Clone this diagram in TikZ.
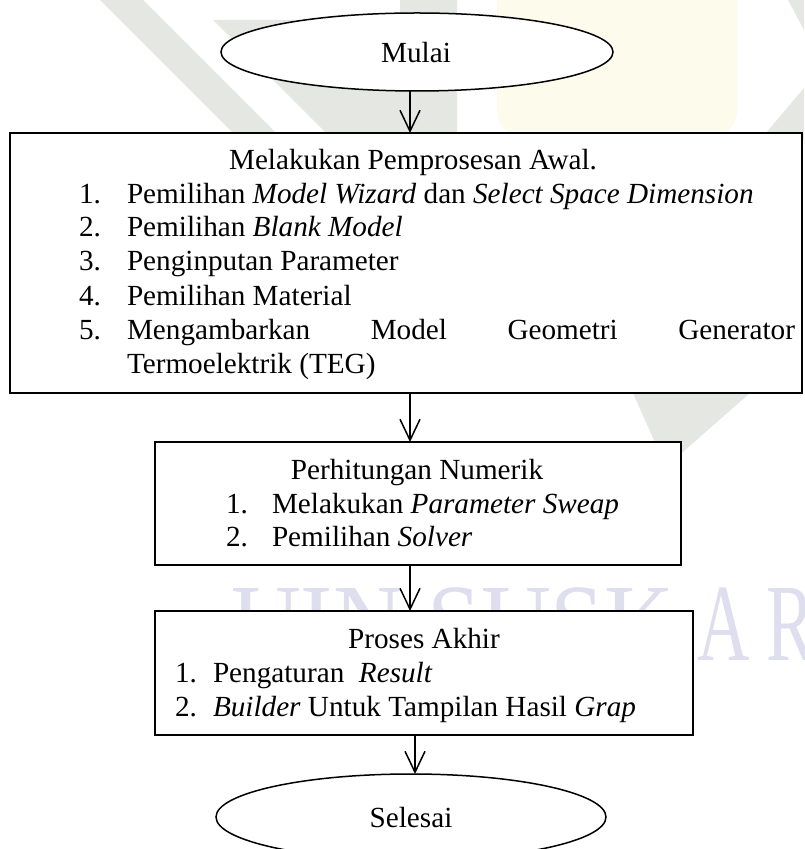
\documentclass[tikz,border=0pt]{standalone}
\usepackage{fontspec}
\setmainfont{Liberation Serif}
\usetikzlibrary{arrows.meta,shapes.geometric}
\definecolor{wmgray}{RGB}{229,231,226}
\definecolor{wmyellow}{RGB}{253,251,236}
\definecolor{wmarc}{RGB}{250,246,222}
\definecolor{wmtext}{RGB}{222,222,238}
\newcommand{\bodyfont}{\fontsize{14.6}{17}\selectfont}
\tikzset{
  every node/.style={inner sep=0pt, outer sep=0pt},
  terminal/.style={ellipse, draw, line width=0.75pt, fill=white},
  stepbox/.style={rectangle, draw, line width=1pt, fill=white},
  txt/.style={font=\bodyfont, anchor=base west},
  boxtitle/.style={font=\bodyfont, anchor=base},
  arr/.style={line width=0.75pt, -{Straight Barb[length=10.5pt,width=10pt]}},
  wmletters/.style={anchor=base west, font=\fontsize{55}{55}\selectfont, text=wmtext},
}
\begin{document}
\begin{tikzpicture}[x=0.5pt,y=-0.5pt]
\useasboundingbox (0,0) rectangle (804,849);
\fill[white] (0,0) rectangle (804,849);

% faint background watermark
\begin{scope}
  \clip (0,0) rectangle (804,849);
  \fill[wmgray] (100,0) -- (143,0) -- (290,147) -- (247,147) -- cycle;
  \fill[wmgray] (213,20) -- (400,20) -- (400,0) -- (457,0) -- (457,140) -- (333,140) -- cycle;
  \fill[wmyellow] (497,0) -- (737,0) -- (737,110) .. controls (737,140) and (700,150) .. (617,150)
                  .. controls (534,150) and (497,140) .. (497,110) -- cycle;
  \foreach \r in {30,55,80,105}
    \draw[wmarc, line width=1.5pt] (617-\r,150) arc[start angle=180, end angle=0, x radius=\r, y radius=\r*1.3];
  \fill[wmgray] (760,140) -- (804,88) -- (804,140) -- cycle;
  \fill[wmgray] (788,0) -- (804,0) -- (804,30) -- cycle;
  \fill[wmgray] (633,393) -- (750,393) -- (676,458) -- (662,458) -- cycle;
  \begin{scope}
    \clip (0,560) rectangle (804,611);
    \node[wmletters] (wm1) at (231,660) {\scalebox{0.88}[1]{UIN SUSK}};
  \end{scope}
  \node[wmletters] (wm2) at (697,660) {\scalebox{0.66}[1]{A\hspace{13pt}R}};
\end{scope}

% terminals and process boxes
\node[terminal, minimum width=196pt, minimum height=39pt] (mulai) at (417,52) {};
\node[stepbox, minimum width=396pt, minimum height=130pt] (b1) at (406,263) {};
\node[stepbox, minimum width=263pt, minimum height=61.5pt] (b2) at (418,503.5) {};
\node[stepbox, minimum width=269pt, minimum height=62pt] (b3) at (424,673) {};
\node[terminal, minimum width=195pt, minimum height=43pt] (selesai) at (411,817) {};

% texts
\node[boxtitle] (tmulai) at (416,63) {Mulai};

\node[boxtitle] (t1) at (413,170) {Melakukan Pemprosesan Awal.};
\node[txt] (n11) at (79,204) {1.};
\node[txt] (l11) at (127,204) {Pemilihan \textit{Model Wizard} dan \textit{Select Space Dimension}};
\node[txt] (n12) at (79,237) {2.};
\node[txt] (l12) at (127,237) {Pemilihan \textit{Blank Model}};
\node[txt] (n13) at (79,271) {3.};
\node[txt] (l13) at (127,271) {Penginputan Parameter};
\node[txt] (n14) at (79,306) {4.};
\node[txt] (l14) at (127,306) {Pemilihan Material};
\node[txt] (n15) at (79,340) {5.};
\node[txt] (l15) at (127,340) {\makebox[334pt][s]{Mengambarkan Model Geometri Generator}};
\node[txt] (l15b) at (127,373) {Termoelektrik (TEG)};

\node[boxtitle] (t2) at (417,479) {Perhitungan Numerik};
\node[txt] (n21) at (226,513) {1.};
\node[txt] (l21) at (272,513) {Melakukan \textit{Parameter Sweap}};
\node[txt] (n22) at (226,546) {2.};
\node[txt] (l22) at (272,546) {Pemilihan \textit{Solver}};

\node[boxtitle] (t3) at (424,648) {Proses Akhir};
\node[txt] (n31) at (175,682) {1.};
\node[txt] (l31) at (213,682) {Pengaturan\ \ \textit{Result}};
\node[txt] (n32) at (175,716) {2.};
\node[txt] (l32) at (213,716) {\textit{Builder} Untuk Tampilan Hasil \textit{Grap}};

\node[boxtitle] (tselesai) at (411,827) {Selesai};

% connectors
\coordinate (ax) at (410,0);
\coordinate (bx) at (415,0);
\draw[arr] (mulai.south -| ax) -- (b1.north -| ax);
\draw[arr] (b1.south -| ax) -- (b2.north -| ax);
\draw[arr] (b2.south -| ax) -- (b3.north -| ax);
\draw[arr] (b3.south -| bx) -- (selesai.north -| bx);
\end{tikzpicture}
\end{document}
